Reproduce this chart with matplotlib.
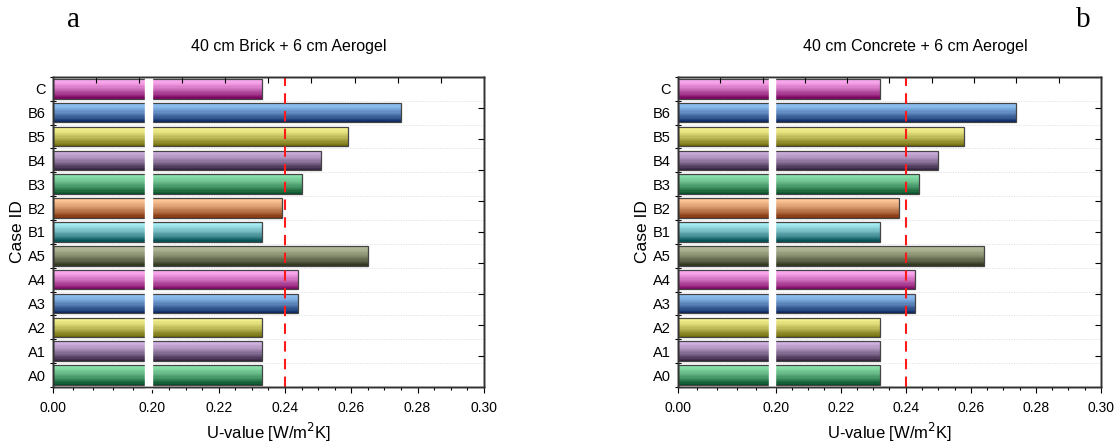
import numpy as np
import matplotlib
matplotlib.use("Agg")
import matplotlib.pyplot as plt
from matplotlib.colors import to_rgb

plt.rcParams["font.family"] = ["Liberation Sans", "DejaVu Sans"]

cases = ["A0", "A1", "A2", "A3", "A4", "A5", "B1", "B2", "B3", "B4", "B5", "B6", "C"]
u_brick = [0.233, 0.233, 0.233, 0.244, 0.244, 0.265, 0.233, 0.239, 0.245, 0.251, 0.259, 0.275, 0.233]
u_concrete = [0.232, 0.232, 0.232, 0.243, 0.243, 0.264, 0.232, 0.238, 0.244, 0.250, 0.258, 0.274, 0.232]
u_limit = 0.24

major_ticks = [0.00, 0.20, 0.22, 0.24, 0.26, 0.28, 0.30]

# (light top, dark bottom) for each bar
shades = [
    ("#8ae0aa", "#07522a"),
    ("#d2b4e2", "#33223f"),
    ("#f8f592", "#6f6a0a"),
    ("#92c4f6", "#0a2762"),
    ("#ffaef4", "#7e0662"),
    ("#b4bc9a", "#343a22"),
    ("#aaeef4", "#06535a"),
    ("#ffc99a", "#82330b"),
    ("#8ae0aa", "#07522a"),
    ("#d2b4e2", "#33223f"),
    ("#f8f592", "#6f6a0a"),
    ("#92c4f6", "#0a2762"),
    ("#ffaef4", "#7e0662"),
]


def fwd(x):
    x = np.asarray(x, dtype=float)
    return np.where(x < 0.2, x * 0.15, x - 0.17)


def inv(y):
    y = np.asarray(y, dtype=float)
    return np.where(y < 0.03, y / 0.15, y + 0.17)


def draw_panel(ax, values, title, tx):
    y = np.arange(len(cases))
    h = 0.82
    n = 16
    for i, v in enumerate(values):
        top, bot = np.array(to_rgb(shades[i][0])), np.array(to_rgb(shades[i][1]))
        for k in range(n):
            t = (k / (n - 1)) ** 1.4
            c = top * (1 - t) + bot * t
            yc = y[i] + h / 2 - (k + 0.5) * h / n
            ax.barh(yc, v, height=h / n + 0.002, color=c, edgecolor="none", zorder=2)
    ax.barh(y, values, height=h, fill=False, edgecolor="#444444", linewidth=0.9, zorder=3)

    ax.axvline(u_limit, color="#ff1a1a", linestyle=(0, (5, 3.5)), linewidth=1.5, zorder=4)

    ax.set_xscale("function", functions=(fwd, inv))
    ax.set_xlim(0, 0.3)
    ax.set_ylim(-0.5, len(cases) - 0.5)

    ax.set_xticks(major_ticks)
    ax.set_xticklabels(["%.2f" % t for t in major_ticks], fontsize=10)
    upper = [round(t, 3) for t in np.arange(0.205, 0.3, 0.005)]
    minor = [0.04, 0.08, 0.12, 0.16] + [t for t in upper if t not in major_ticks]
    ax.set_xticks(minor, minor=True)
    ax.tick_params(axis="x", which="major", length=4, direction="out", width=0.8, pad=6)
    ax.tick_params(axis="x", which="minor", length=2.5, direction="out", width=0.8)

    ax.set_yticks(y)
    ax.set_yticklabels(cases, fontsize=10.5)
    ax.set_yticks(np.arange(-0.5, len(cases), 1.0), minor=True)
    ax.tick_params(axis="y", which="major", length=0, pad=5)
    ax.tick_params(axis="y", which="minor", length=5, direction="inout", width=0.8)

    for b in np.arange(0.5, len(cases) - 1, 1.0):
        ax.axhline(b, color="#dddddd", linestyle=(0, (1, 1.5)), linewidth=0.7, zorder=1)

    # axis break
    ax.axvspan(0.186, 0.1995, ymin=-0.006, ymax=0.997, color="white", zorder=5, clip_on=False)

    # unlabelled ticks along the top and right edges
    top_ax = ax.twiny()
    top_ax.set_xlim(0, 1)
    top_ax.set_xticks(np.linspace(0, 1, 11)[1:-1])
    top_ax.set_xticklabels([])
    top_ax.tick_params(direction="in", length=4, width=0.8)
    right_ax = ax.twinx()
    right_ax.set_ylim(0, 1)
    right_ax.set_yticks(np.linspace(0, 1, 11)[1:-1])
    right_ax.set_yticklabels([])
    right_ax.tick_params(direction="in", length=4, width=0.8)

    for a in (ax, top_ax, right_ax):
        for s in a.spines.values():
            s.set_linewidth(1.0)
            s.set_color("#333333")

    ax.set_xlabel("U-value [W/m$^2$K]", fontsize=12, labelpad=4)
    ax.set_ylabel("Case ID", fontsize=12.5, labelpad=2)
    ax.figure.text(tx, 0.895, title, fontsize=11.5, ha="center", va="center")


fig = plt.figure(figsize=(11.16, 4.45), dpi=100)
ax1 = fig.add_axes([0.0475, 0.1303, 0.386, 0.697])
ax2 = fig.add_axes([0.6075, 0.1303, 0.379, 0.697])

draw_panel(ax1, u_brick, "40 cm Brick + 6 cm Aerogel", 289 / 1116)
draw_panel(ax2, u_concrete, "40 cm Concrete + 6 cm Aerogel", 915 / 1116)

fig.text(74 / 1116, 0.955, "a", fontsize=21, family="Liberation Serif", ha="center", va="center")
fig.text(1083 / 1116, 0.955, "b", fontsize=21, family="Liberation Serif", ha="center", va="center")

fig.savefig("out.png", dpi=100)
